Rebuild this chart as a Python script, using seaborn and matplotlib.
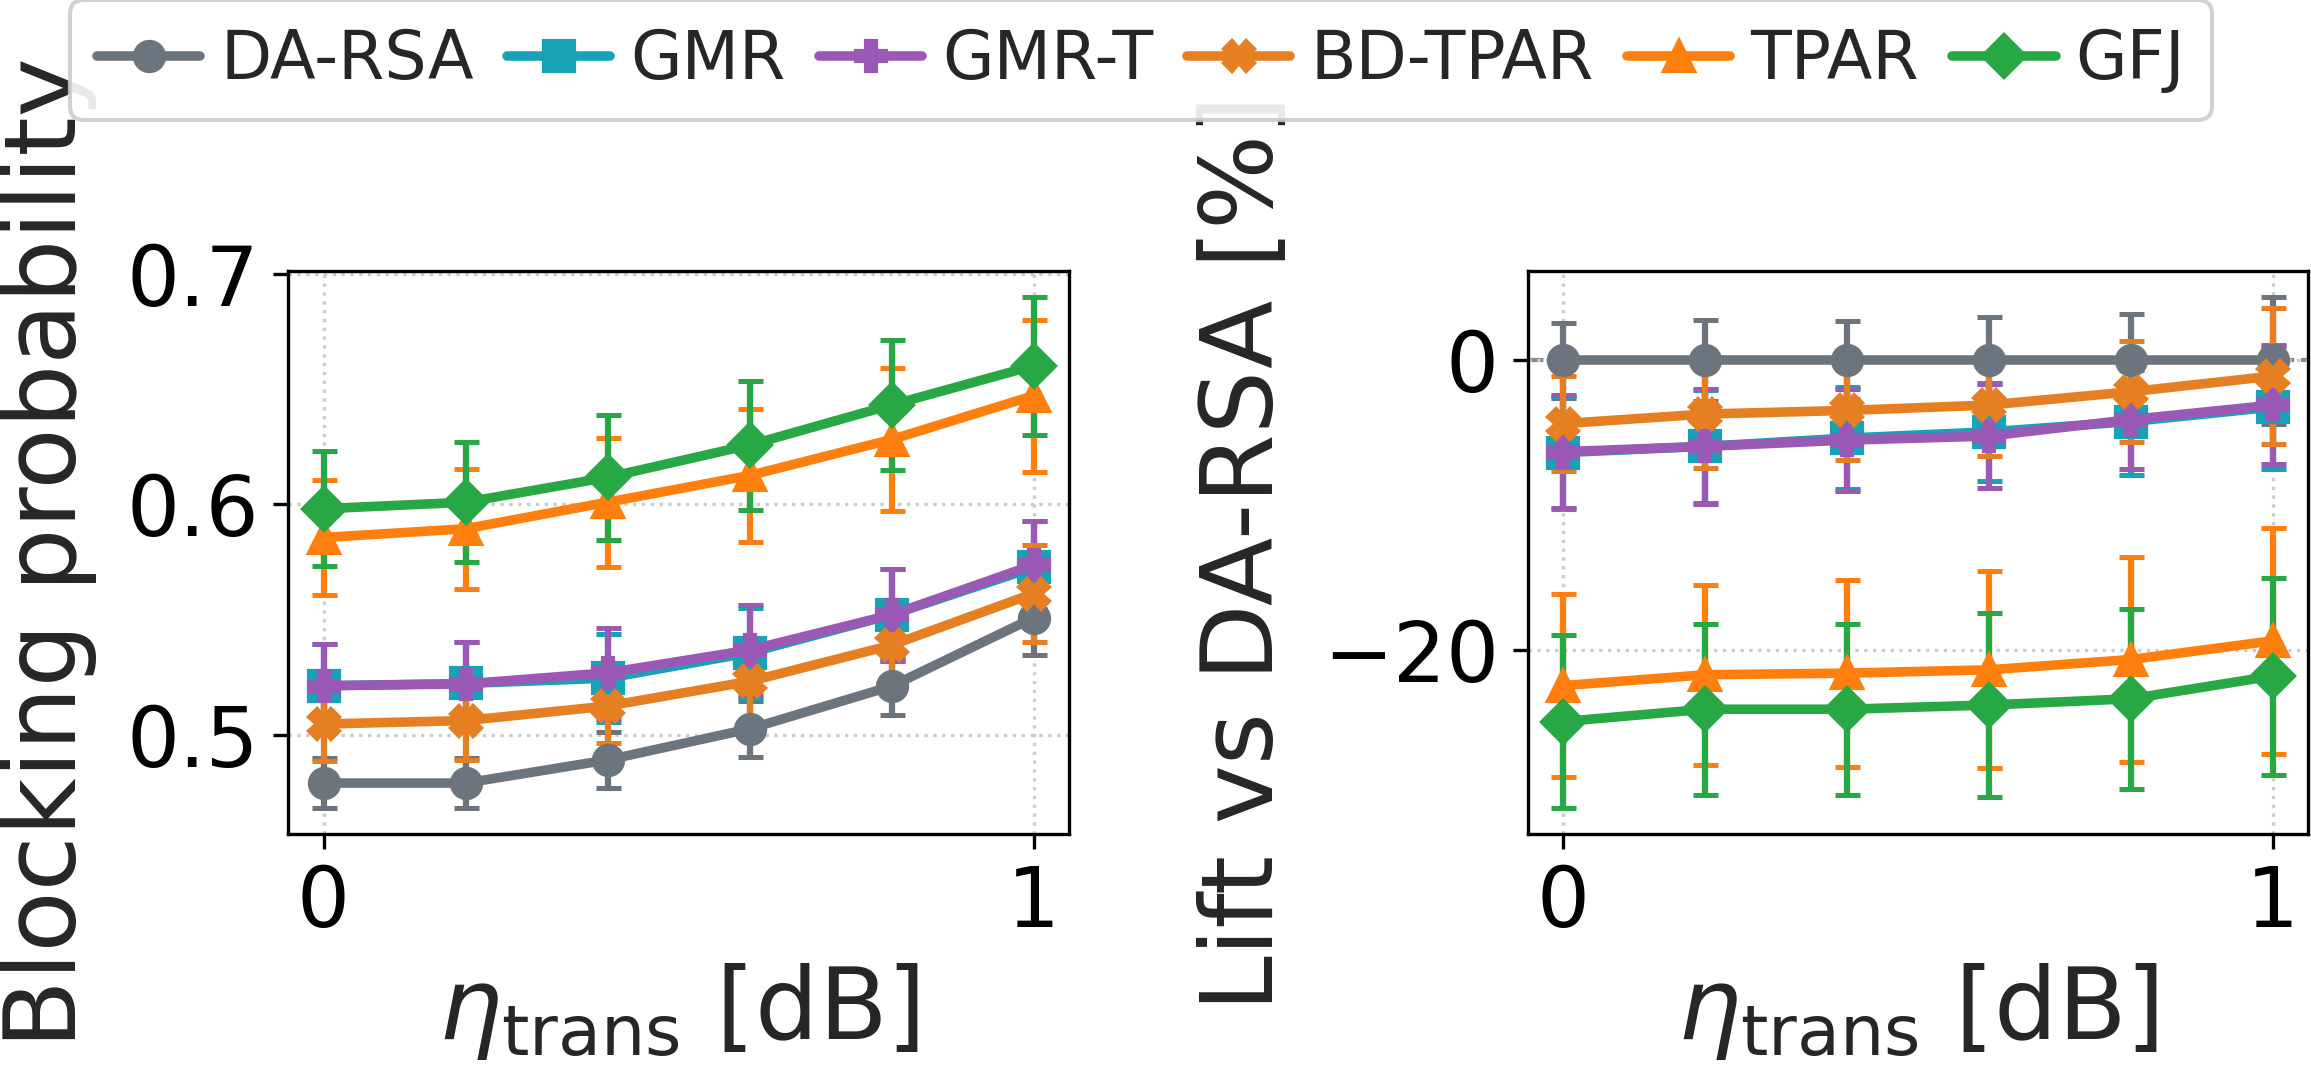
import matplotlib; matplotlib.use("Agg")
import matplotlib.pyplot as plt
import seaborn as sns

# eta_trans sweep [dB]
eta = [0.0, 0.2, 0.4, 0.6, 0.8, 1.0]
methods = ["DA-RSA", "GMR", "GMR-T", "BD-TPAR", "TPAR", "GFJ"]
colors  = ["#6c757d", "#17a2b8", "#9b59b6", "#e67e22", "#ff7f0e", "#28a745"]
markers = ["o", "s", "P", "X", "^", "D"]

# blocking probability (mean, +/- error)
bp_mean = {
    "DA-RSA":  [0.479, 0.479, 0.489, 0.5025, 0.521, 0.5507],
    "GMR":     [0.5212, 0.5222, 0.5245, 0.5355, 0.552, 0.5725],
    "GMR-T":   [0.5212, 0.522, 0.5268, 0.5367, 0.552, 0.5736],
    "BD-TPAR": [0.5046, 0.5061, 0.5124, 0.5231, 0.5388, 0.5612],
    "TPAR":    [0.5855, 0.5893, 0.6008, 0.6124, 0.628, 0.647],
    "GFJ":     [0.598, 0.6008, 0.6116, 0.6256, 0.643, 0.660],
}
bp_err = {
    "DA-RSA":  [0.011, 0.011, 0.012, 0.012, 0.0127, 0.016],
    "GMR":     [0.018, 0.018, 0.019, 0.0195, 0.020, 0.020],
    "GMR-T":   [0.018, 0.018, 0.0195, 0.0197, 0.020, 0.019],
    "BD-TPAR": [0.016, 0.017, 0.016, 0.017, 0.018, 0.021],
    "TPAR":    [0.025, 0.026, 0.028, 0.029, 0.031, 0.033],
    "GFJ":     [0.025, 0.026, 0.027, 0.028, 0.028, 0.030],
}

# lift vs DA-RSA [%]
lift_mean = {
    "DA-RSA":  [0.0, 0.0, 0.0, 0.0, 0.0, 0.0],
    "GMR":     [-6.37, -5.94, -5.37, -4.94, -4.23, -3.23],
    "GMR-T":   [-6.31, -5.94, -5.51, -5.23, -4.09, -3.09],
    "BD-TPAR": [-4.37, -3.71, -3.46, -3.09, -2.17, -1.09],
    "TPAR":    [-22.46, -21.71, -21.6, -21.37, -20.66, -19.37],
    "GFJ":     [-24.94, -24.09, -24.09, -23.8, -23.37, -21.8],
}
lift_err = {
    "DA-RSA":  [2.6, 2.8, 2.7, 3.0, 3.2, 4.4],
    "GMR":     [3.9, 3.9, 3.5, 3.4, 3.7, 4.3],
    "GMR-T":   [3.9, 3.95, 3.5, 3.6, 3.4, 4.1],
    "BD-TPAR": [3.3, 3.7, 3.4, 3.5, 3.5, 4.7],
    "TPAR":    [6.3, 6.2, 6.45, 6.8, 7.1, 7.8],
    "GFJ":     [6.0, 5.9, 5.9, 6.35, 6.2, 6.8],
}

sns.set_style("ticks", {"axes.edgecolor": "black", "xtick.color": "black",
                        "ytick.color": "black", "axes.linewidth": 0.8})
plt.rcParams["font.family"] = ["DejaVu Sans"]
plt.rcParams.update({"xtick.major.size": 3.5, "ytick.major.size": 3.5,
                     "xtick.major.width": 0.8, "ytick.major.width": 0.8,
                     "mathtext.fontset": "dejavusans"})

fig = plt.figure(figsize=(2311/300, 1067/300), dpi=300)
ax1 = fig.add_axes([288/2311, 1-834/1067, 781/2311, 563/1067])
ax2 = fig.add_axes([1528/2311, 1-834/1067, 780/2311, 563/1067])

def draw(ax, means, errs):
    lines = []
    for m, c, mk in zip(methods, colors, markers):
        eb = ax.errorbar(eta, means[m], yerr=errs[m], color=c, marker=mk, ms=7,
                         lw=2.3, elinewidth=1.5, capsize=3, capthick=1.2, label=m)
        lines.append(eb[0])
    ax.grid(True, linestyle=":", color="#cccccc", linewidth=0.8)
    ax.set_xticks([0, 1])
    ax.tick_params(labelsize=20)
    ax.set_xlabel(r"$\eta_{\mathrm{trans}}$ [dB]", fontsize=24)
    return lines

handles = draw(ax1, bp_mean, bp_err)
ax1.set_yticks([0.5, 0.6, 0.7])
ax1.set_ylabel("Blocking probability", fontsize=24)
ax1.yaxis.set_label_coords(-0.244, 0.5)

ax2.axhline(0, color="#888888", ls="--", lw=1, zorder=0)
draw(ax2, lift_mean, lift_err)
ax2.set_yticks([-20, 0])
ax2.set_ylabel("Lift vs DA-RSA [%]", fontsize=24)
ax2.yaxis.set_label_coords(-0.300, 0.5)

fig.legend(handles, methods, loc="center", bbox_to_anchor=(1141/2311, 1-60/1067), ncol=6,
           fontsize=16, handlelength=1.55, handletextpad=0.3, columnspacing=0.5,
           borderpad=0.4, framealpha=0.9, edgecolor="#cccccc")

fig.savefig("out.png", dpi=300, facecolor="white")
